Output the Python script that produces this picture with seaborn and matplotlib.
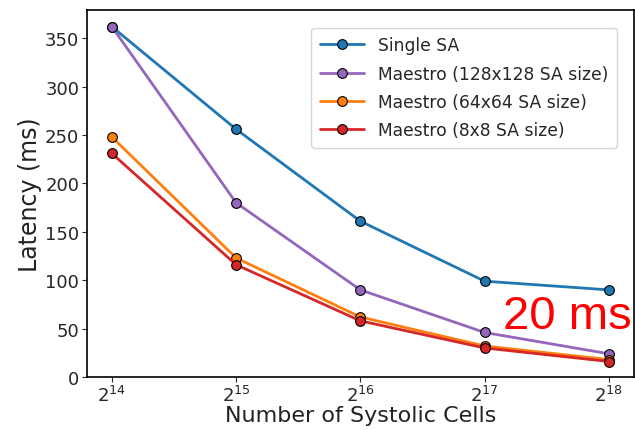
import matplotlib
matplotlib.use("Agg")
import matplotlib.pyplot as plt
import seaborn as sns
import pandas as pd

exponents = [14, 15, 16, 17, 18]
x_labels = [r"$2^{14}$", r"$2^{15}$", r"$2^{16}$", r"$2^{17}$", r"$2^{18}$"]
single_sa = [362, 256, 161, 99, 90]
maestro_128 = [362, 180, 90, 46, 24]
maestro_64 = [248, 123, 62, 32, 18]
maestro_8 = [231, 116, 58, 30, 16]
series_names = ["Single SA", "Maestro (128x128 SA size)",
                "Maestro (64x64 SA size)", "Maestro (8x8 SA size)"]
colors = ["#1f77b4", "#9467bd", "#ff7f0e", "#d62728"]

rows = []
for name, vals in zip(series_names, [single_sa, maestro_128, maestro_64, maestro_8]):
    for i, v in enumerate(vals):
        rows.append({"pos": i, "latency": v, "series": name})
df = pd.DataFrame(rows)

sns.set_style("ticks")
plt.rcParams['font.family'] = ['DejaVu Sans']

fig = plt.figure(figsize=(6.35, 4.31), dpi=100)
ax = fig.add_axes([0.137, 0.123, 0.861, 0.851])

sns.lineplot(data=df, x="pos", y="latency", hue="series", hue_order=series_names,
             palette=colors, marker="o", markersize=7, markeredgecolor="black",
             markeredgewidth=0.8, linewidth=2, ax=ax)

ax.set_xticks(range(len(exponents)))
ax.set_xticklabels(x_labels, fontsize=13)
ax.tick_params(axis="y", labelsize=13, pad=2)
ax.tick_params(axis="x", pad=2)
ax.set_ylim(0, 379)
ax.set_xlim(-0.2, 4.2)
ax.set_yticks([0, 50, 100, 150, 200, 250, 300, 350])
ax.set_xlabel("Number of Systolic Cells", fontsize=16, color="#222222", labelpad=0)
ax.set_ylabel("Latency (ms)", fontsize=17, color="#222222", labelpad=2)
for s in ax.spines.values():
    s.set_visible(True)
    s.set_color("black")
    s.set_linewidth(1.2)

leg = ax.legend(loc="upper right", fontsize=12.3, frameon=True, bbox_to_anchor=(0.985, 0.975),
                borderpad=0.5, labelspacing=0.6, handlelength=2.6)
leg.get_frame().set_edgecolor("#cccccc")

ax.text(0.997, 0.165, "20 ms", transform=ax.transAxes, ha="right", va="center",
        color="red", fontsize=34, family="Liberation Sans")

fig.savefig("out.png", dpi=100)
